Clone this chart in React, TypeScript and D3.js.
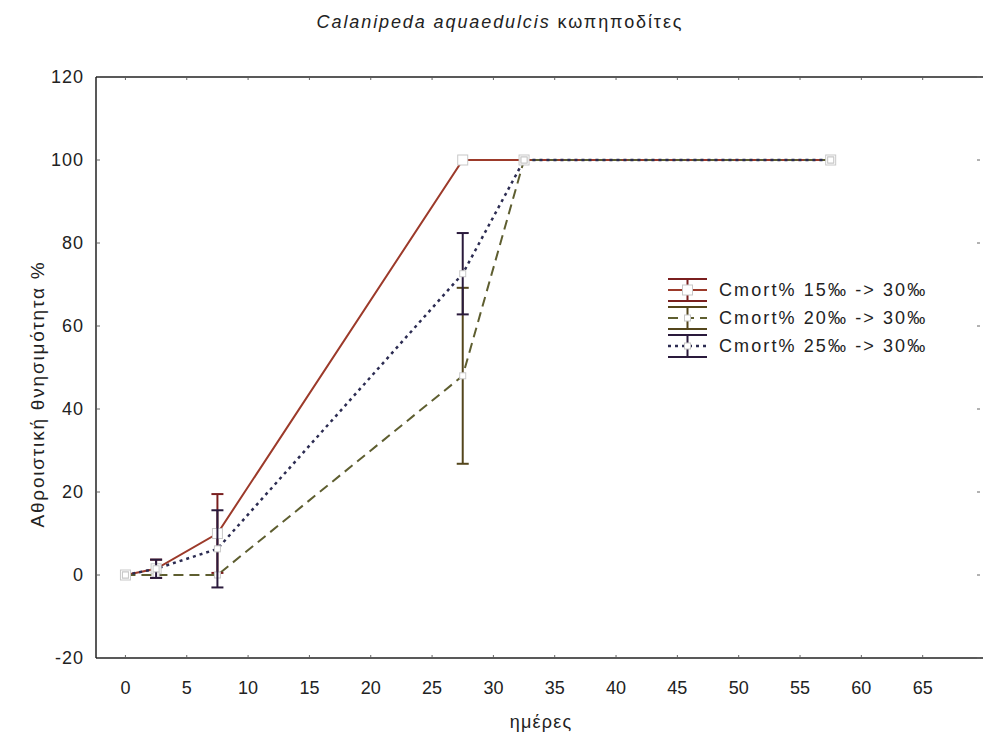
import React, { useEffect } from 'react';
import * as d3 from 'd3';

const days = [0, 2.5, 7.5, 27.5, 32.5, 57.5];
const mort15 = [0, 1.5, 10, 100, 100, 100];
const err15 = [0, 2.2, 9.5, 0, 0, 0];
const mort20 = [0, 0, 0, 48, 100, 100];
const err20 = [0, 0, 0, 21.2, 0, 0];
const mort25 = [0, 1.5, 6.3, 72.6, 100, 100];
const err25 = [0, 2.2, 9.3, 9.8, 0, 0];
const seriesNames = ['Cmort% 15‰ -> 30‰', 'Cmort% 20‰ -> 30‰', 'Cmort% 25‰ -> 30‰'];
const xTicks = [0, 5, 10, 15, 20, 25, 30, 35, 40, 45, 50, 55, 60, 65];
const yTicks = [-20, 0, 20, 40, 60, 80, 100, 120];

const W = 983;
const H = 742;
const font = '"Liberation Sans", Arial, sans-serif';

const series = [
  { name: seriesNames[0], values: mort15, errs: err15, color: '#9c3a2a', bar: '#7a1f1f', dash: '', width: 2, marker: 10 },
  { name: seriesNames[1], values: mort20, errs: err20, color: '#5e5e30', bar: '#54461c', dash: '10,6', width: 2, marker: 6 },
  { name: seriesNames[2], values: mort25, errs: err25, color: '#2c2c52', bar: '#2a1a3c', dash: '3,4', width: 2.5, marker: 6 },
];

const App: React.FC = () => {
  useEffect(() => {
    document.body.style.margin = '0';
    document.body.style.background = '#fff';
  }, []);

  const x = d3.scaleLinear().domain([-2.4, 70]).range([96, 984]);
  const y = d3.scaleLinear().domain([-20, 120]).range([658, 77]);

  const line = d3
    .line<number>()
    .x((_, i) => x(days[i]))
    .y((d) => y(d));

  return (
    <svg width={W} height={H} style={{ display: 'block', background: '#fff' }} fontFamily={font}>
      <text x={500} y={28} textAnchor="middle" fontSize={18} letterSpacing={1.9} fill="#222">
        <tspan fontStyle="italic">Calanipeda aquaedulcis</tspan> κωπηποδίτες
      </text>

      {/* frame */}
      <line x1={96} x2={984} y1={y(120)} y2={y(120)} stroke="#222" strokeWidth={1.5} />
      <line x1={96} x2={984} y1={y(-20)} y2={y(-20)} stroke="#222" strokeWidth={1.5} />
      <line x1={96} x2={96} y1={y(120)} y2={y(-20)} stroke="#222" strokeWidth={1.5} />

      {xTicks.map((t) => (
        <g key={'x' + t}>
          <line x1={x(t)} x2={x(t)} y1={y(-20) - 1} y2={y(-20) - 3} stroke="#666" />
          <line x1={x(t)} x2={x(t)} y1={y(120) + 1} y2={y(120) + 3} stroke="#666" />
          <text x={x(t)} y={694} textAnchor="middle" fontSize={18} fill="#222">
            {t}
          </text>
        </g>
      ))}
      {yTicks.map((t) => (
        <g key={'y' + t}>
          <line x1={97} x2={100} y1={y(t)} y2={y(t)} stroke="#666" />
          <line x1={977} x2={980} y1={y(t)} y2={y(t)} stroke="#666" />
          <text x={84} y={y(t) + 6} textAnchor="end" fontSize={18} letterSpacing={1} fill="#222">
            {t}
          </text>
        </g>
      ))}

      <text x={541} y={728} textAnchor="middle" fontSize={18} letterSpacing={1.2} fill="#222">
        ημέρες
      </text>
      <text
        transform={`translate(44,${394}) rotate(-90)`}
        textAnchor="middle"
        fontSize={19}
        letterSpacing={1.8}
        fill="#222"
      >
        Αθροιστική θνησιμότητα %
      </text>

      {series.map((s, si) => (
        <g key={'s' + si}>
          <path d={line(s.values) || ''} fill="none" stroke={s.color} strokeWidth={s.width} strokeDasharray={s.dash} />
        </g>
      ))}

      {series.map((s, si) => (
        <g key={'e' + si}>
          {s.values.map((v, i) =>
            s.errs[i] > 0 ? (
              <g key={i} stroke={s.bar} strokeWidth={2}>
                <line x1={x(days[i])} x2={x(days[i])} y1={y(v + s.errs[i])} y2={y(v - s.errs[i])} />
                <line x1={x(days[i]) - 6} x2={x(days[i]) + 6} y1={y(v + s.errs[i])} y2={y(v + s.errs[i])} />
                <line x1={x(days[i]) - 6} x2={x(days[i]) + 6} y1={y(v - s.errs[i])} y2={y(v - s.errs[i])} />
              </g>
            ) : null
          )}
          {s.values.map((v, i) => (
            <rect
              key={'m' + i}
              x={x(days[i]) - s.marker / 2}
              y={y(v) - s.marker / 2}
              width={s.marker}
              height={s.marker}
              fill="#fff"
              stroke="#c8c8c8"
              strokeWidth={1}
            />
          ))}
        </g>
      ))}

      {/* legend */}
      {series.map((s, si) => {
        const cy = 290 + si * 28;
        return (
          <g key={'l' + si}>
            <line x1={668} x2={707} y1={cy - 11} y2={cy - 11} stroke={s.bar} strokeWidth={2} />
            <line x1={668} x2={707} y1={cy + 11} y2={cy + 11} stroke={s.bar} strokeWidth={2} />
            <line x1={687.5} x2={687.5} y1={cy - 11} y2={cy + 11} stroke={s.bar} strokeWidth={2} />
            <line x1={668} x2={707} y1={cy} y2={cy} stroke={s.color} strokeWidth={s.width} strokeDasharray={s.dash} />
            <rect
              x={687.5 - s.marker / 2}
              y={cy - s.marker / 2}
              width={s.marker}
              height={s.marker}
              fill="#fff"
              stroke="#c8c8c8"
            />
            <text x={719} y={cy + 6} fontSize={18} letterSpacing={2.1} fill="#222">
              {s.name}
            </text>
          </g>
        );
      })}
    </svg>
  );
};

export default App;
